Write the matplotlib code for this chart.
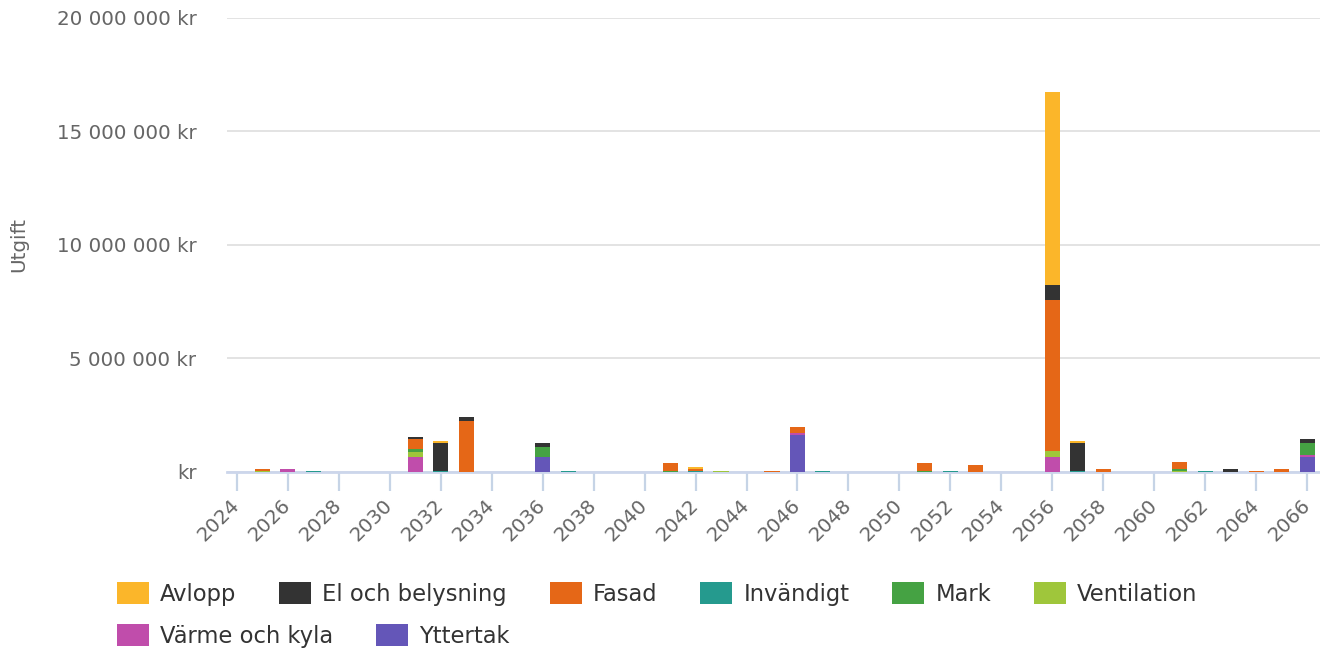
import matplotlib.pyplot as plt
from matplotlib.patches import Patch
from matplotlib.ticker import FuncFormatter
import numpy as np

plt.rcParams['font.family'] = ['DejaVu Sans']

years = list(range(2024, 2067))

# values in million kr, sparse per year
avlopp = {2032: 0.09, 2042: 0.09, 2056: 8.52, 2057: 0.09}
el_och_belysning = {2031: 0.09, 2032: 1.22, 2033: 0.18, 2036: 0.18, 2056: 0.62,
                    2057: 1.22, 2063: 0.12, 2066: 0.18}
fasad = {2025: 0.07, 2031: 0.44, 2033: 2.23, 2041: 0.34, 2042: 0.07, 2045: 0.03,
         2046: 0.25, 2051: 0.34, 2053: 0.29, 2056: 6.68, 2058: 0.12, 2061: 0.35,
         2064: 0.03, 2065: 0.12}
invandigt = {2027: 0.04, 2032: 0.04, 2037: 0.04, 2042: 0.04, 2047: 0.04,
             2052: 0.04, 2057: 0.04, 2062: 0.04}
mark = {2031: 0.09, 2036: 0.44, 2041: 0.04, 2051: 0.04, 2061: 0.07, 2066: 0.53}
ventilation = {2025: 0.05, 2031: 0.26, 2043: 0.04, 2056: 0.26, 2061: 0.04}
varme_och_kyla = {2026: 0.12, 2031: 0.64, 2046: 0.09, 2056: 0.65, 2066: 0.09}
yttertak = {2036: 0.64, 2046: 1.63, 2066: 0.64}

labels = ['Avlopp', 'El och belysning', 'Fasad', 'Invändigt', 'Mark',
          'Ventilation', 'Värme och kyla', 'Yttertak']
series = [avlopp, el_och_belysning, fasad, invandigt, mark, ventilation,
          varme_och_kyla, yttertak]
colors = ['#fbb62a', '#333333', '#e56717', '#259a8e', '#45a243', '#9fc63b',
          '#c04dab', '#6456b8']

fig = plt.figure(figsize=(13.2, 6.51), dpi=100)
ax = fig.add_axes([0.172, 0.275, 0.828, 0.698])

x = np.array(years)
bottom = np.zeros(len(years))
# stack from last series (bottom) to first (top)
for s, c in zip(series[::-1], colors[::-1]):
    vals = np.array([s.get(y, 0.0) for y in years]) * 1e6
    ax.bar(x, vals, width=0.59, bottom=bottom, color=c, linewidth=0, zorder=3)
    bottom += vals

ax.set_xlim(2023.62, 2066.5)
ax.set_ylim(0, 20e6)
ax.set_yticks([0, 5e6, 10e6, 15e6, 20e6])


def kr_fmt(v, pos):
    if v == 0:
        return 'kr'
    return '{:,.0f} kr'.format(v).replace(',', ' ')


ax.yaxis.set_major_formatter(FuncFormatter(kr_fmt))
ax.set_xticks(years[::2])
ax.set_xticklabels([str(y) for y in years[::2]], rotation=45, ha='right',
                   va='center', rotation_mode='anchor')

ax.grid(axis='y', color='#e0e0e0', linewidth=1.3, zorder=0)
for sp in ['top', 'right', 'left']:
    ax.spines[sp].set_visible(False)
ax.spines['bottom'].set_color('#ccd6eb')
ax.spines['bottom'].set_linewidth(2)
ax.spines['bottom'].set_zorder(2)

ax.tick_params(axis='y', length=0, pad=22, labelsize=14.3, labelcolor='#666666')
ax.tick_params(axis='x', length=14, width=1.6, color='#c6d4e6', pad=8,
               labelsize=14.3, labelcolor='#666666')

ax.set_ylabel('Utgift', fontsize=14.3, color='#666666')
ax.yaxis.set_label_coords(-0.182, 0.5)

handles = [Patch(facecolor=c, edgecolor='none') for c in colors]
common = dict(frameon=False, fontsize=16.3, handlelength=1.4, handleheight=1.1,
              handletextpad=0.5, columnspacing=1.9, borderpad=0, borderaxespad=0,
              labelcolor='#333333')
fig.legend(handles[:6], labels[:6], ncol=6, loc='center left',
           bbox_to_anchor=(0.0886, 0.0876), **common)
fig.legend(handles[6:], labels[6:], ncol=2, loc='center left',
           bbox_to_anchor=(0.0886, 0.023), **common)

plt.savefig('out.png', dpi=100)
